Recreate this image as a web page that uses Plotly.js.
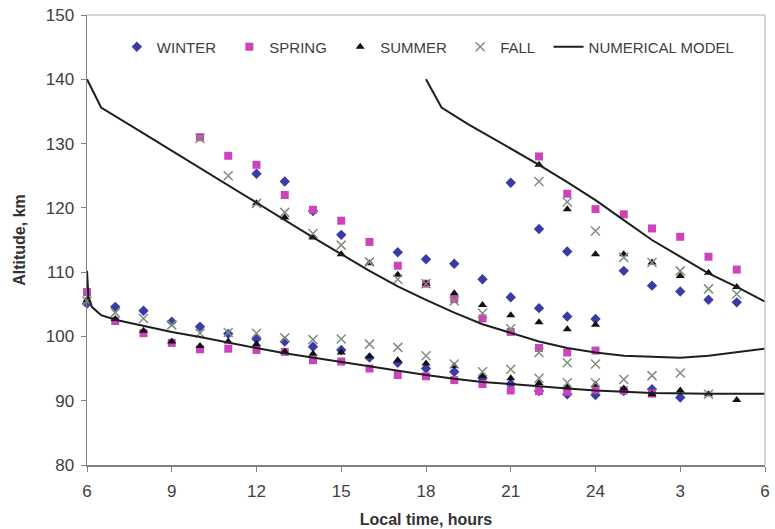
<!DOCTYPE html>
<html>
<head>
<meta charset="utf-8">
<script src="https://cdn.plot.ly/plotly-3.0.1.min.js"></script>
<style>html,body{margin:0;padding:0;background:#fff;}#chart{width:775px;height:529px;}</style>
</head>
<body>
<div id="chart"></div>
<script>
// ---- Data (local time in hours; 25..30 = 1..6 next day) ----
const tickVals = [6, 9, 12, 15, 18, 21, 24, 27, 30];
const tickText = ['6', '9', '12', '15', '18', '21', '24', '3', '6'];

// WINTER
const winterLowHours = [6,7,8,9,10,11,12,13,14,15,16,17,18,19,20,21,22,23,24,25,26,27];
const winterLowAlt   = [105.1,104.6,104.0,102.3,101.5,100.4,99.6,99.2,98.4,97.9,96.7,95.9,95.0,94.5,93.5,92.6,91.5,91.0,90.9,91.5,91.8,90.5];
const winterDayHours = [12,13,14,15,17,18,19,20,21,22,23,24];
const winterDayAlt   = [125.3,124.1,119.5,115.8,113.1,112.0,111.3,108.9,106.1,104.4,103.1,102.7];
const winterNightHours = [21,22,23,25,26,27,28,29];
const winterNightAlt   = [123.9,116.7,113.2,110.2,107.9,107.0,105.7,105.3];

// SPRING
const springLowHours = [6,7,8,9,10,11,12,13,14,15,16,17,18,19,20,21,22,23,24,25,26];
const springLowAlt   = [106.9,102.4,100.5,99.0,98.0,98.1,97.9,97.6,96.3,96.1,95.0,94.0,93.8,93.2,92.6,91.6,91.5,91.4,91.7,91.6,91.1];
const springDayHours = [10,11,12,13,14,15,16,17,18,19,20,21,22,23,24];
const springDayAlt   = [131.0,128.1,126.7,122.0,119.7,118.0,114.7,111.0,108.2,105.8,102.8,100.7,98.2,97.5,97.8];
const springNightHours = [22,23,24,25,26,27,28,29];
const springNightAlt   = [128.0,122.2,119.8,119.0,116.8,115.5,112.4,110.4];

// SUMMER
const summerLowHours = [6,7,8,9,10,11,12,13,14,15,16,17,18,19,20,21,22,23,24,25,26,27,28,29];
const summerLowAlt   = [105.7,102.7,100.9,99.2,98.5,99.2,98.8,97.6,97.3,97.5,96.9,96.3,95.8,95.4,93.9,93.5,92.7,92.1,92.5,91.9,91.0,91.6,91.0,90.1];
const summerDayHours = [12,13,14,15,16,17,18,19,20,21,22,23,24];
const summerDayAlt   = [120.7,118.5,115.4,112.8,111.4,109.6,108.2,106.7,104.9,103.3,102.2,101.1,101.8];
const summerNightHours = [22,23,24,25,26,27,28,29];
const summerNightAlt   = [126.7,119.8,112.8,112.8,111.5,109.4,109.9,107.7];

// FALL
const fallLowHours = [6,7,8,9,10,11,12,13,14,15,16,17,18,19,20,21,22,23,24,25,26,27,28];
const fallLowAlt   = [105.5,103.7,102.8,101.8,100.5,100.6,100.5,99.8,99.5,99.6,98.8,98.3,97.0,95.7,94.5,94.9,93.5,92.8,92.8,93.3,93.9,94.3,91.0];
const fallDayHours = [10,11,12,13,14,15,16,17,18,19,20,21,22,23,24];
const fallDayAlt   = [130.8,125.0,120.7,119.3,116.0,114.2,111.6,108.9,108.2,105.5,103.6,101.2,97.5,95.9,95.7];
const fallNightHours = [22,23,24,25,26,27,28,29];
const fallNightAlt   = [124.1,120.9,116.4,112.3,111.5,110.2,107.4,106.6];

// NUMERICAL MODEL (three curves)
const modelDayHours = [6,6.5,8,10,12,14,16,17,18,19,20,21,22,23,24,25,26,27,28,29,30];
const modelDayAlt   = [140.0,135.6,131.6,126.2,120.7,115.4,110.2,107.8,105.7,103.7,101.9,100.5,99.2,98.2,97.5,97.0,96.8,96.7,97.0,97.5,98.1];
const modelNightHours = [18,18.55,19.5,20.5,21,22,23,24,25,26,27,28,29,30];
const modelNightAlt   = [140.0,135.6,133.0,130.5,129.3,126.7,124.0,121.2,118.1,115.0,112.4,109.8,107.7,105.4];
const modelLowHours = [6,6.05,6.17,6.5,7,8,9,10,11,12,13,14,15,16,17,18,19,20,21,22,23,24,25,26,28,30];
const modelLowAlt   = [110.2,106.2,104.6,103.3,102.6,101.6,100.7,99.9,99.0,98.2,97.4,96.7,96.1,95.3,94.6,94.0,93.4,92.9,92.6,92.2,91.9,91.6,91.4,91.2,91.1,91.1];

function join(parts) { // join segments with null gaps
  const out = [];
  parts.forEach((p, i) => { if (i) out.push(null); out.push(...p); });
  return out;
}

const FONT = 'Liberation Sans, Arial, sans-serif';
const pad = '\u00a0\u00a0';

const traces = [
  { name: 'WINTER' + pad, type: 'scatter', mode: 'markers',
    x: [...winterLowHours, ...winterDayHours, ...winterNightHours],
    y: [...winterLowAlt, ...winterDayAlt, ...winterNightAlt],
    marker: { symbol: 'diamond', size: 8, color: '#3b3ba6' }, cliponaxis: false },
  { name: 'SPRING' + pad, type: 'scatter', mode: 'markers',
    x: [...springLowHours, ...springDayHours, ...springNightHours],
    y: [...springLowAlt, ...springDayAlt, ...springNightAlt],
    marker: { symbol: 'square', size: 8, color: '#cc44bb' }, cliponaxis: false },
  { name: 'SUMMER' + pad, type: 'scatter', mode: 'markers',
    x: [...summerLowHours, ...summerDayHours, ...summerNightHours],
    y: [...summerLowAlt, ...summerDayAlt, ...summerNightAlt],
    marker: { symbol: 'triangle-up', size: 8, color: '#111111' }, cliponaxis: false },
  { name: 'FALL' + pad, type: 'scatter', mode: 'markers',
    x: [...fallLowHours, ...fallDayHours, ...fallNightHours],
    y: [...fallLowAlt, ...fallDayAlt, ...fallNightAlt],
    marker: { symbol: 'x-thin', size: 9, color: '#7f8f7a', line: { color: '#7f8f7a', width: 1.5 } }, cliponaxis: false },
  { name: 'NUMERICAL MODEL', type: 'scatter', mode: 'lines',
    x: join([modelDayHours, modelNightHours, modelLowHours]),
    y: join([modelDayAlt, modelNightAlt, modelLowAlt]),
    connectgaps: false,
    line: { color: '#1e1e1e', width: 2 } }
];

const layout = {
  width: 775, height: 529,
  margin: { l: 87, r: 10, t: 15, b: 64 },
  paper_bgcolor: '#ffffff', plot_bgcolor: '#ffffff',
  font: { family: FONT, size: 17, color: '#404040' },
  showlegend: true,
  legend: { orientation: 'h', x: 0.044, xanchor: 'left', y: 0.929, yanchor: 'middle',
            bgcolor: 'rgba(0,0,0,0)', font: { family: FONT, size: 15, color: '#404040' },
            tracegroupgap: 0 },
  xaxis: {
    range: [6, 30], tickmode: 'array', tickvals: tickVals, ticktext: tickText,
    showgrid: false, zeroline: false, showline: true, linecolor: '#808080', linewidth: 1.5,
    ticks: 'outside', ticklen: 5, tickcolor: '#808080', ticklabelstandoff: 5,
    tickfont: { family: FONT, size: 17, color: '#404040' },
    title: { text: '<b>Local time, hours</b>', font: { family: FONT, size: 16, color: '#333333' }, standoff: 14 }
  },
  yaxis: {
    range: [80, 150], dtick: 10,
    showgrid: false, zeroline: false, showline: true, linecolor: '#808080', linewidth: 1.5,
    ticks: 'outside', ticklen: 5, tickcolor: '#808080', ticklabelstandoff: 3,
    tickfont: { family: FONT, size: 17, color: '#404040' },
    title: { text: '<b>Altitude, km</b>', font: { family: FONT, size: 16, color: '#333333' }, standoff: 16 }
  },
  shapes: [
    { type: 'line', xref: 'paper', yref: 'paper', x0: 0, x1: 1, y0: 1, y1: 1, line: { color: '#c8c8c8', width: 1.5 } },
    { type: 'line', xref: 'paper', yref: 'paper', x0: 1, x1: 1, y0: 0, y1: 1, line: { color: '#c8c8c8', width: 1.5 } }
  ]
};

Plotly.newPlot('chart', traces, layout, { displayModeBar: false, staticPlot: true });
</script>
</body>
</html>
